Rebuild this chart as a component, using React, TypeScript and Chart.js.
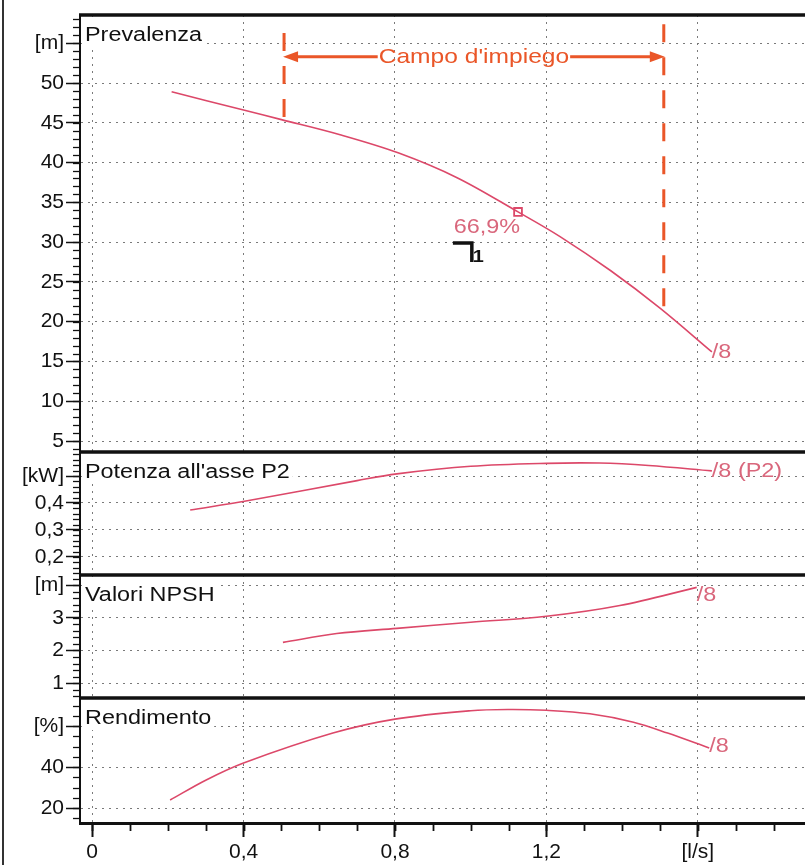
import React, { useEffect, useRef } from "react";
import { Chart, registerables } from "chart.js";

Chart.register(...registerables);

// ---------------- data ----------------
const headQ = [0.21, 0.4, 0.5, 0.655, 0.81, 0.964, 1.125, 1.236, 1.37, 1.5, 1.637];
const headH = [48.9, 46.6, 45.4, 43.5, 41.2, 38.1, 33.8, 30.7, 26.4, 21.7, 16.2];

const powerQ = [0.259, 0.41, 0.7, 0.805, 1.0, 1.2, 1.34, 1.47, 1.637];
const powerP = [0.374, 0.408, 0.483, 0.508, 0.536, 0.547, 0.548, 0.539, 0.519];

const npshQ = [0.504, 0.646, 0.805, 1.0, 1.2, 1.394, 1.597];
const npshM = [2.25, 2.52, 2.68, 2.87, 3.05, 3.38, 3.94];

const effQ = [0.206, 0.3, 0.4, 0.636, 0.8, 1.0, 1.1, 1.2, 1.315, 1.43, 1.52, 1.63];
const effE = [23.9, 33.6, 42.0, 56.6, 63.4, 67.5, 68.1, 67.7, 66.0, 61.9, 56.6, 49.3];

const dutyQ = 1.125;
const dutyH = 33.8;
const dutyLabel = "66,9%";

const rangeQ = [0.507, 1.51];
const rangeTopH = [56.3, 57.4];
const rangeBottomH = [45.4, 21.7];
const rangeArrowH = 53.3;
const rangeLabel = "Campo d'impiego";

const markQ = [0.953, 1.003];
const markH = [29.9, 27.5];
const markLabel = "1";

const xTicks = [0, 0.4, 0.8, 1.2, 1.6];
const xTickLabels = ["0", "0,4", "0,8", "1,2", "[l/s]"];
const headTicks = [5, 10, 15, 20, 25, 30, 35, 40, 45, 50, 55];
const headTickLabels = ["5", "10", "15", "20", "25", "30", "35", "40", "45", "50", "[m]"];
const powerTicks = [0.2, 0.3, 0.4, 0.5];
const powerTickLabels = ["0,2", "0,3", "0,4", "[kW]"];
const npshTicks = [1, 2, 3, 4];
const npshTickLabels = ["1", "2", "3", "[m]"];
const effTicks = [20, 40, 60];
const effTickLabels = ["20", "40", "[%]"];

const panelTitles = ["Prevalenza", "Potenza all'asse P2", "Valori NPSH", "Rendimento"];
const curveEndLabels = ["/8", "/8 (P2)", "/8", "/8"];

// ---------------- styles ----------------
const FONT = '"Liberation Sans", Arial, Helvetica, sans-serif';
const GRID = "#7a7a7a";
const CURVE = "#dc4869";
const CURVE_TEXT = "#d9677c";
const ORANGE = "#ea5628";
const INK = "#111";
const TEXT_STRETCH = 1.17;
const minorSteps = [1, 0.02, 0.2, 5];
const xMinorStep = 0.1;
const endLabelDy = [6, 6, 14, 4];

function pts(xs: number[], ys: number[]) {
  return xs.map((x, i) => ({ x, y: ys[i] }));
}

// text drawn with a slight horizontal stretch (the scan is wider than tall)
function drawText(ctx: any, text: string, x: number, y: number, align: "left" | "right" | "center") {
  const w = ctx.measureText(text).width * TEXT_STRETCH;
  let left = x;
  if (align === "right") left = x - w;
  if (align === "center") left = x - w / 2;
  ctx.save();
  ctx.textAlign = "left";
  ctx.translate(left, y);
  ctx.scale(TEXT_STRETCH, 1);
  ctx.fillText(text, 0, 0);
  ctx.restore();
  return w;
}

function yScale(min: number, max: number, ticks: number[], labels: string[], weight: number) {
  return {
    type: "linear",
    position: "left",
    stack: "panels",
    stackWeight: weight,
    min,
    max,
    afterBuildTicks: (s: any) => {
      s.ticks = ticks.map((v) => ({ value: v }));
    },
    afterFit: (s: any) => {
      s.width = 80;
    },
    ticks: {
      autoSkip: false,
      padding: 2,
      color: INK,
      font: { family: FONT, size: 21 },
      callback: (_v: any, i: number) => labels[i],
    },
    grid: { color: GRID, lineWidth: 1, tickLength: 14, tickColor: INK, tickWidth: 1.5 },
    border: { display: true, color: INK, width: 2, dash: [2, 5] },
  };
}

const overlayPlugin = {
  id: "overlay",
  afterDraw(chart: any) {
    const { ctx, chartArea: ca, scales } = chart;
    const x = scales.x;
    const yH = scales.yH;
    const ys = [scales.yH, scales.yP, scales.yN, scales.yE];
    ctx.save();

    // scan frame at the far left
    ctx.strokeStyle = "#333";
    ctx.lineWidth = 2;
    ctx.beginPath();
    ctx.moveTo(3, 0);
    ctx.lineTo(3, chart.height);
    ctx.stroke();

    // minor ticks (ruler)
    ctx.strokeStyle = INK;
    ctx.lineWidth = 1.3;
    ys.forEach((s: any, i: number) => {
      const step = minorSteps[i];
      const n0 = Math.ceil(s.min / step - 1e-9);
      const n1 = Math.floor(s.max / step + 1e-9);
      for (let n = n0; n <= n1; n++) {
        const py = Math.round(s.getPixelForValue(n * step)) + 0.5;
        ctx.beginPath();
        ctx.moveTo(ca.left, py);
        ctx.lineTo(ca.left - 7, py);
        ctx.stroke();
      }
    });
    {
      const n0 = Math.ceil(x.min / xMinorStep - 1e-9);
      const n1 = Math.floor(x.max / xMinorStep + 1e-9);
      ctx.lineWidth = 1.8;
      for (let n = n0; n <= n1; n++) {
        const px = Math.round(x.getPixelForValue(n * xMinorStep)) + 0.5;
        ctx.beginPath();
        ctx.moveTo(px, ca.bottom);
        ctx.lineTo(px, ca.bottom + 8);
        ctx.stroke();
      }
    }

    // panel titles with white backing
    ctx.font = `20px ${FONT}`;
    ctx.textBaseline = "alphabetic";
    ys.forEach((s: any, i: number) => {
      const tx = ca.left + 5;
      const ty = s.top + 26;
      const w = ctx.measureText(panelTitles[i]).width * TEXT_STRETCH;
      ctx.fillStyle = "#fff";
      ctx.fillRect(ca.left + 2, s.top + 3, w + 6, 29);
      ctx.fillStyle = INK;
      drawText(ctx, panelTitles[i], tx, ty, "left");
    });

    // panel separators
    ctx.strokeStyle = INK;
    ctx.lineWidth = 3.5;
    ys.forEach((s: any) => {
      ctx.beginPath();
      ctx.moveTo(ca.left - 1, s.top);
      ctx.lineTo(ca.right, s.top);
      ctx.stroke();
    });

    // curve end labels
    const ends = [
      [headQ, headH, scales.yH],
      [powerQ, powerP, scales.yP],
      [npshQ, npshM, scales.yN],
      [effQ, effE, scales.yE],
    ] as any[];
    ctx.fillStyle = CURVE_TEXT;
    ctx.font = `20px ${FONT}`;
    ends.forEach(([qs, vs, s], i) => {
      const px = x.getPixelForValue(qs[qs.length - 1]);
      const py = s.getPixelForValue(vs[vs.length - 1]);
      drawText(ctx, curveEndLabels[i], px, py + endLabelDy[i], "left");
    });

    // duty point label
    drawText(ctx, dutyLabel, x.getPixelForValue(dutyQ) + 2, yH.getPixelForValue(dutyH) + 21, "right");

    // operating range arrow + label
    const ax0 = x.getPixelForValue(rangeQ[0]);
    const ax1 = x.getPixelForValue(rangeQ[1]);
    const ay = yH.getPixelForValue(rangeArrowH);
    ctx.font = `21px ${FONT}`;
    const tw = ctx.measureText(rangeLabel).width * TEXT_STRETCH;
    const tcx = (ax0 + ax1) / 2;
    ctx.fillStyle = ORANGE;
    ctx.strokeStyle = ORANGE;
    ctx.lineWidth = 3;
    ctx.beginPath();
    ctx.moveTo(ax0 + 10, ay);
    ctx.lineTo(tcx - tw / 2 - 1, ay);
    ctx.moveTo(tcx + tw / 2 + 1, ay);
    ctx.lineTo(ax1 - 10, ay);
    ctx.stroke();
    ctx.beginPath();
    ctx.moveTo(ax0 - 1, ay);
    ctx.lineTo(ax0 + 14, ay - 5.5);
    ctx.lineTo(ax0 + 14, ay + 5.5);
    ctx.closePath();
    ctx.fill();
    ctx.beginPath();
    ctx.moveTo(ax1 + 1, ay);
    ctx.lineTo(ax1 - 14, ay - 5.5);
    ctx.lineTo(ax1 - 14, ay + 5.5);
    ctx.closePath();
    ctx.fill();
    drawText(ctx, rangeLabel, tcx, ay + 6, "center");

    // black operating mark
    const m0 = x.getPixelForValue(markQ[0]);
    const m1 = x.getPixelForValue(markQ[1]);
    const my0 = yH.getPixelForValue(markH[0]);
    const my1 = yH.getPixelForValue(markH[1]);
    ctx.strokeStyle = INK;
    ctx.lineWidth = 3.5;
    ctx.beginPath();
    ctx.moveTo(m0, my0);
    ctx.lineTo(m1, my0);
    ctx.lineTo(m1, my1);
    ctx.stroke();
    ctx.fillStyle = INK;
    ctx.font = `bold 17px ${FONT}`;
    drawText(ctx, markLabel, m1 + 1, my1, "left");

    ctx.restore();
  },
};

export default function App() {
  const ref = useRef<HTMLCanvasElement>(null);

  useEffect(() => {
    const canvas = ref.current;
    if (!canvas) return;
    const curve = (data: any, yAxisID: string) => ({
      type: "line",
      data,
      yAxisID,
      borderColor: CURVE,
      borderWidth: 1.6,
      pointRadius: 0,
      fill: false,
      tension: 0.35,
    });
    const rangeLine = (i: number) => ({
      type: "line",
      data: [
        { x: rangeQ[i], y: rangeTopH[i] },
        { x: rangeQ[i], y: rangeBottomH[i] },
      ],
      yAxisID: "yH",
      borderColor: ORANGE,
      borderWidth: 3,
      borderDash: [18, 15],
      pointRadius: 0,
      tension: 0,
      fill: false,
    });
    const chart = new Chart(canvas, {
      type: "line",
      data: {
        datasets: [
          curve(pts(headQ, headH), "yH"),
          curve(pts(powerQ, powerP), "yP"),
          curve(pts(npshQ, npshM), "yN"),
          curve(pts(effQ, effE), "yE"),
          rangeLine(0),
          rangeLine(1),
          {
            type: "line",
            data: [{ x: dutyQ, y: dutyH }],
            yAxisID: "yH",
            showLine: false,
            pointStyle: "rect",
            pointRadius: 5.5,
            pointBorderColor: CURVE,
            pointBackgroundColor: "#fff",
            pointBorderWidth: 1.8,
          },
        ] as any,
      },
      options: {
        responsive: false,
        animation: false,
        devicePixelRatio: 1,
        events: [],
        layout: { autoPadding: false, padding: { top: 15, left: 0, right: 0, bottom: 0 } },
        plugins: { legend: { display: false }, tooltip: { enabled: false } },
        scales: {
          x: {
            type: "linear",
            position: "bottom",
            min: -0.032,
            max: 1.883,
            afterBuildTicks: (s: any) => {
              s.ticks = xTicks.map((v) => ({ value: v }));
            },
            afterFit: (s: any) => {
              s.height = 42;
            },
            ticks: {
              autoSkip: false,
              maxRotation: 0,
              padding: 3,
              color: INK,
              font: { family: FONT, size: 21 },
              callback: (_v: any, i: number) => xTickLabels[i],
            },
            grid: { color: GRID, lineWidth: 1, tickLength: 14, tickColor: INK, tickWidth: 2 },
            border: { display: true, color: INK, width: 3, dash: [2, 5] },
          },
          // stacked panels: the first listed ends up at the bottom
          yE: yScale(12.7, 73.7, effTicks, effTickLabels, 125),
          yN: yScale(0.54, 4.32, npshTicks, npshTickLabels, 123),
          yP: yScale(0.133, 0.589, powerTicks, powerTickLabels, 123),
          yH: yScale(3.62, 58.55, headTicks, headTickLabels, 437),
        } as any,
      },
      plugins: [overlayPlugin],
    } as any);
    return () => chart.destroy();
  }, []);

  return (
    <div style={{ position: "fixed", left: 0, top: 0, width: 805, height: 865, background: "#fff" }}>
      <canvas ref={ref} width={805} height={865} style={{ display: "block", width: 805, height: 865 }} />
    </div>
  );
}
